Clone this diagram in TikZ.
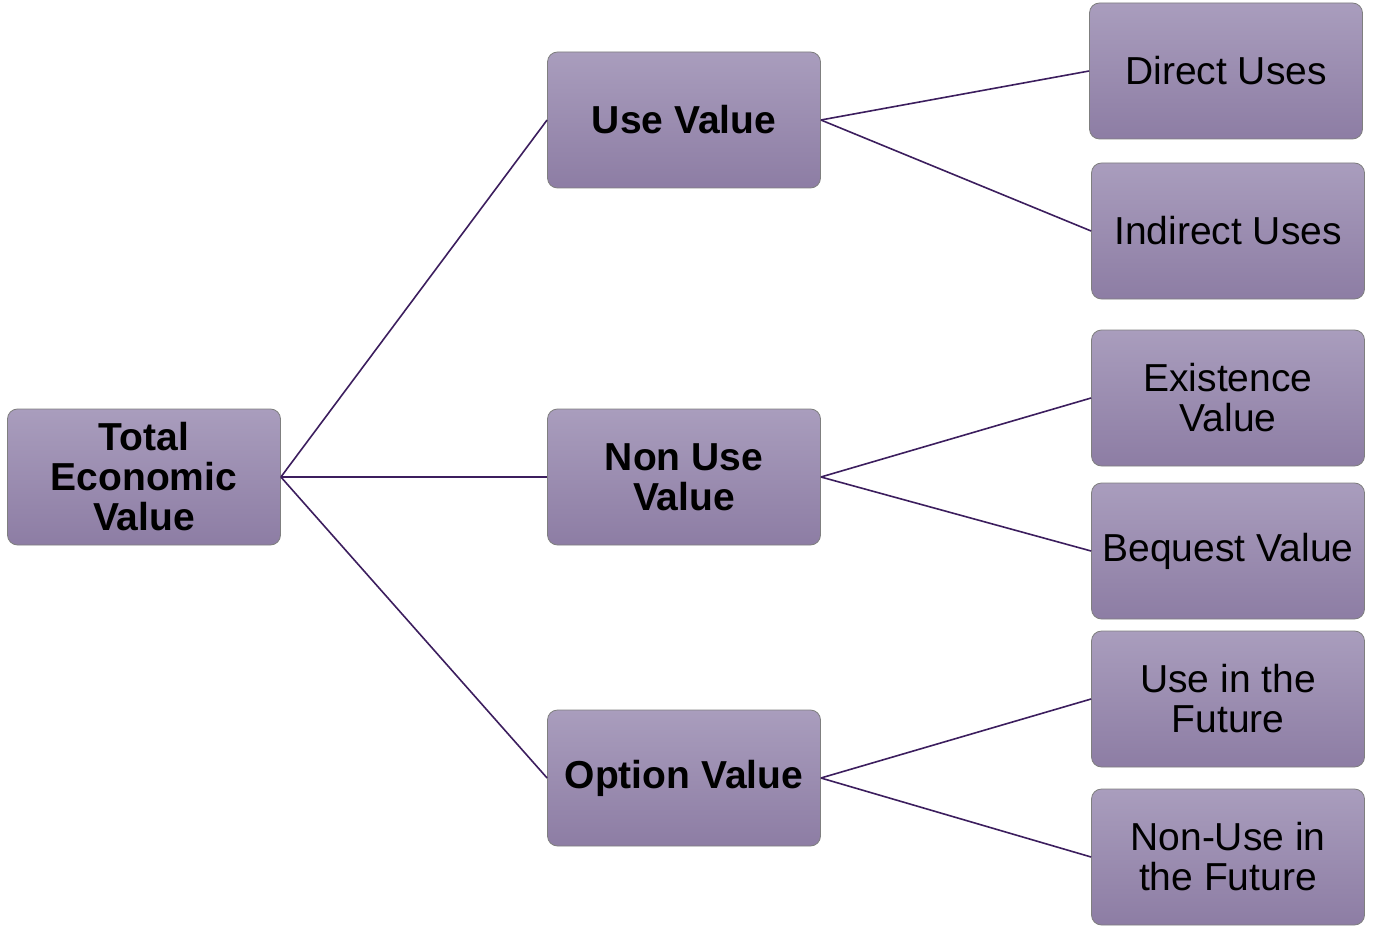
\documentclass[tikz,border=0pt]{standalone}
\usepackage{fontspec}
\setmainfont{Liberation Sans}
\usepackage{tikz}
\usetikzlibrary{positioning}
\definecolor{boxtop}{HTML}{A99DBD}
\definecolor{boxbot}{HTML}{8D7DA4}
\definecolor{boxline}{HTML}{7F7F7F}
\definecolor{link}{HTML}{3C1E5E}

\begin{document}
\begin{tikzpicture}[
                x=1pt, y=-1pt,
                block/.style={rectangle, draw=boxline, line width=0.8pt, top color=boxtop, bottom color=boxbot, minimum width=273pt, minimum height=136pt, rounded corners=10pt, align=center, inner sep=0pt, font=\fontsize{39}{40}\selectfont},
                head/.style={block, font=\fontsize{39}{40}\selectfont\bfseries},
                link/.style={draw=link, line width=1.6pt}
            ]
                \useasboundingbox (0,0) rectangle (1378,933);
                % root and middle column
                \node[head] (total) at (144,477) {Total\\Economic\\Value};
                \node[head] (use) at (684,120) {Use Value};
                \node[head] (nonuse) at (684,477) {Non Use\\Value};
                \node[head] (option) at (684,778) {Option Value};
                % leaves
                \node[block] (direct) at (1226,71) {Direct Uses};
                \node[block] (indirect) at (1228,231) {Indirect Uses};
                \node[block] (exist) at (1228,398) {Existence\\Value};
                \node[block] (bequest) at (1228,551) {Bequest Value};
                \node[block] (future) at (1228,699) {Use in the\\Future};
                \node[block] (nonfuture) at (1228,857) {Non-Use in\\the Future};
                
                \draw[link] (total.east) -- (use.west);
                \draw[link] (total.east) -- (nonuse.west);
                \draw[link] (total.east) -- (option.west);
                \draw[link] (use.east) -- (direct.west);
                \draw[link] (use.east) -- (indirect.west);
                \draw[link] (nonuse.east) -- (exist.west);
                \draw[link] (nonuse.east) -- (bequest.west);
                \draw[link] (option.east) -- (future.west);
                \draw[link] (option.east) -- (nonfuture.west);
            \end{tikzpicture}
\end{document}
